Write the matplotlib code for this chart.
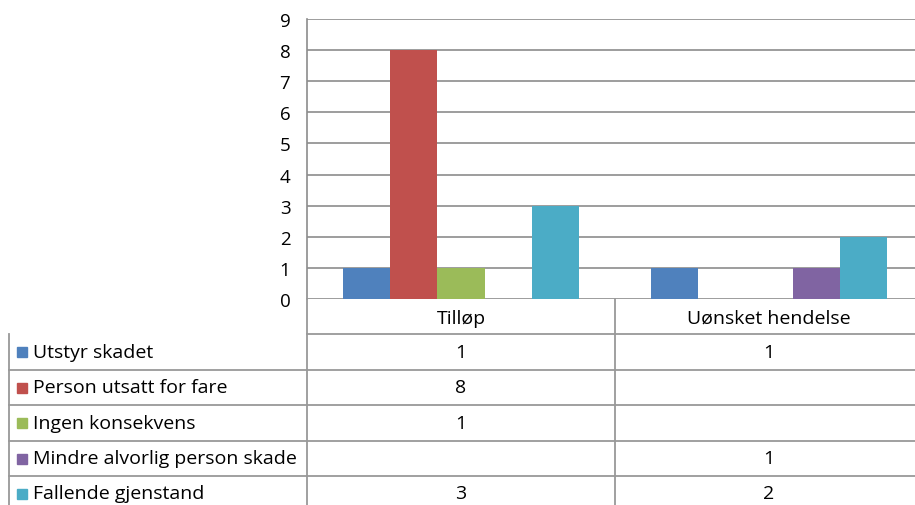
import matplotlib.pyplot as plt
import numpy as np

# Data
categories = ['Tilløp', 'Uønsket hendelse']
series = ['Utstyr skadet', 'Person utsatt for fare', 'Ingen konsekvens',
          'Mindre alvorlig person skade', 'Fallende gjenstand']
values = [
    [1, 1],
    [8, None],
    [1, None],
    [None, 1],
    [3, 2],
]
colors = ['#4F81BD', '#C0504D', '#9BBB59', '#8064A2', '#4BACC6']

plt.rcParams['font.family'] = ['Open Sans', 'DejaVu Sans']
W, H = 915, 506
fig = plt.figure(figsize=(W / 100, H / 100), dpi=100)
grid_col = '#8c8c8c'
fs = 14

# Chart area (pixel layout); right edge runs slightly past the image
x0, x1, ytop, ybot = 307, 923, 20, 300
ax = fig.add_axes([x0 / W, 1 - ybot / H, (x1 - x0) / W, (ybot - ytop) / H])
n = len(series)
bw = 1 / (n + 1.5)
for i, (name, vals) in enumerate(zip(series, values)):
    for j, v in enumerate(vals):
        if v is None:
            continue
        pos = j + 0.5 + (i - (n - 1) / 2) * bw
        ax.bar(pos, v, width=bw, color=colors[i], zorder=3)
ax.set_xlim(0, len(categories))
ax.set_ylim(0, 9)
ax.set_yticks(range(10))
ax.set_xticks([])
ax.grid(axis='y', color=grid_col, linewidth=1.2, zorder=0)
for s in ['top', 'right', 'bottom']:
    ax.spines[s].set_visible(False)
ax.spines['left'].set_color(grid_col)
ax.spines['left'].set_linewidth(1.2)
ax.tick_params(axis='y', length=0, labelsize=13.5, pad=12)

# Data table below the chart (drawn in pixel coordinates)
tab = fig.add_axes([0, 0, 1, 1], facecolor='none')
tab.set_xlim(0, W)
tab.set_ylim(H, 0)
tab.axis('off')
col_x = [x0 + (x1 - x0) * k / len(categories) for k in range(len(categories) + 1)]
row_y = [300, 335, 371, 406, 442, 477, 512]
lc = '#999999'
# header row
tab.plot([x0, x1], [row_y[1], row_y[1]], color=lc, lw=1.3)
for cx in col_x:
    tab.plot([cx, cx], [row_y[0], row_y[-1]], color=lc, lw=1.3)
for j, cat in enumerate(categories):
    tab.text((col_x[j] + col_x[j + 1]) / 2, (row_y[0] + row_y[1]) / 2 + 1, cat,
             ha='center', va='center', fontsize=fs)
# series rows
tab.plot([9, 9], [row_y[1], row_y[-1]], color=lc, lw=1.3)
for r in range(2, len(row_y) - 1):
    tab.plot([9, x1], [row_y[r], row_y[r]], color=lc, lw=1.3)
for i, name in enumerate(series):
    yc = (row_y[i + 1] + row_y[i + 2]) / 2
    tab.add_patch(plt.Rectangle((17, yc - 5), 10, 10, color=colors[i]))
    tab.text(33, yc, name, ha='left', va='center', fontsize=fs)
    for j, v in enumerate(values[i]):
        if v is not None:
            tab.text((col_x[j] + col_x[j + 1]) / 2, yc, str(v),
                     ha='center', va='center', fontsize=fs)

fig.savefig('out.png', dpi=100)
